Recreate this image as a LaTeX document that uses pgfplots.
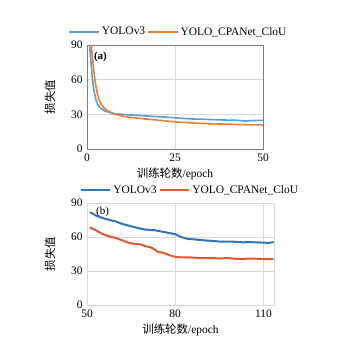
\documentclass[border=0pt]{standalone}
\usepackage{fontspec}
\setmainfont{Liberation Serif}
\newfontfamily\cjk{Noto Sans CJK SC}
\usepackage{pgfplots}
\pgfplotsset{compat=1.18}
\definecolor{tblue}{HTML}{5B9BD5}
\definecolor{torange}{HTML}{ED7D31}
\definecolor{bblue}{HTML}{2E75B6}
\definecolor{borange}{HTML}{E2572B}
\definecolor{gridc}{HTML}{D9D9D9}
\definecolor{framec}{HTML}{7F7F7F}
\begin{document}
\begin{tikzpicture}
\path[use as bounding box] (0bp,0bp) rectangle (355bp,351bp);
\pgfplotsset{
  common/.style={
    scale only axis,
    anchor=south west,
    font=\fontsize{11.5}{13}\selectfont,
    /pgf/number format/assume math mode=true,
    ymin=0, ymax=90, ytick={0,30,60,90},
    grid=major,
    major grid style={gridc, line width=0.6pt},
    major tick length=0pt,
    xticklabel style={yshift=-1.5pt},
    yticklabel style={xshift=-1pt},
    xlabel={{\cjk 训练轮数}/epoch},
    ylabel={\cjk 损失值},
    xlabel style={yshift=1pt},
    ylabel style={yshift=9pt},
    legend columns=2,
    legend style={draw=none, fill=none, font=\fontsize{11.5}{13}\selectfont,
      /tikz/every even column/.append style={column sep=0pt},
      inner sep=0pt},
    legend image code/.code={\draw[#1] (-0.1cm,0cm) -- (0.95cm,0cm);},
    legend cell align=left,
    every axis plot/.append style={no markers, line join=round},
  }
}
\begin{axis}[common,
  at={(87bp,202bp)}, width=176bp, height=104bp,
  xmin=0, xmax=50, xtick={0,25,50},
  axis line style={framec, line width=0.9pt},
  legend style={at={(0.52,1.06)}, anchor=south},
]
\addplot[tblue, line width=1.6pt] coordinates {
(0.6,95) (1,80) (1.5,62) (2,50) (2.5,43) (3,39) (3.5,36.5) (4,35) (5,33) (6,32) (7,31) (8,30.5) (10,30) (12,29.5) (15,29) (20,28) (25,27) (30,26) (35,25.5) (40,25) (43,24.8) (45,24.2) (47,24.6) (50,24.8)
};
\addlegendentry{YOLOv3}
\addplot[torange, line width=1.6pt] coordinates {
(1.1,95) (1.5,80) (2,66) (2.5,55) (3,47) (3.5,42) (4,39) (5,35) (6,33) (7,31.5) (8,30) (10,28.5) (12,27.5) (15,26.5) (20,25) (25,23.5) (30,22.5) (35,21.8) (40,21.5) (45,21) (50,20.8)
};
\addlegendentry{YOLO\_CPANet\_CloU}
\node[anchor=north west, font=\fontsize{11}{13}\selectfont\bfseries] at (rel axis cs:0.02,0.97) {(a)};
\end{axis}
\begin{axis}[common,
  at={(87bp,46bp)}, width=187bp, height=102bp,
  xmin=50, xmax=113.6, xtick={50,80,110},
  axis line style={gridc, line width=0.8pt},
  legend style={at={(0.55,1.06)}, anchor=south},
]
\addplot[bblue, line width=2pt] coordinates {
(51,82) (52,80.5) (53,79) (55,77) (57,75.5) (60,73.5) (62,71.5) (65,69.5) (68,67.5) (70,66.5) (73,66) (75,65) (78,63.5) (80,62.5) (82,60) (84,58.5) (86,58) (88,57.5) (90,57) (93,56.5) (95,56) (98,56) (100,55.8) (103,55.3) (105,55.5) (108,55.3) (110,55) (112,54.8) (113.5,55.5)
};
\addlegendentry{YOLOv3}
\addplot[borange, line width=2pt] coordinates {
(51,68.5) (53,66) (55,63) (57,61) (60,59) (62,57) (64,55) (66,54) (68,53.5) (70,52) (72,50.5) (73,49) (74,47) (76,46) (78,44) (80,42.5) (82,42) (85,42) (88,41.5) (90,41.3) (93,41.5) (95,41) (98,41.5) (100,40.8) (103,40.5) (105,41) (108,40.8) (110,40.5) (113.5,40.5)
};
\addlegendentry{YOLO\_CPANet\_CloU}
\node[anchor=north west, font=\fontsize{11}{13}\selectfont] at (rel axis cs:0.03,1.0) {(b)};
\end{axis}
\end{tikzpicture}
\end{document}
